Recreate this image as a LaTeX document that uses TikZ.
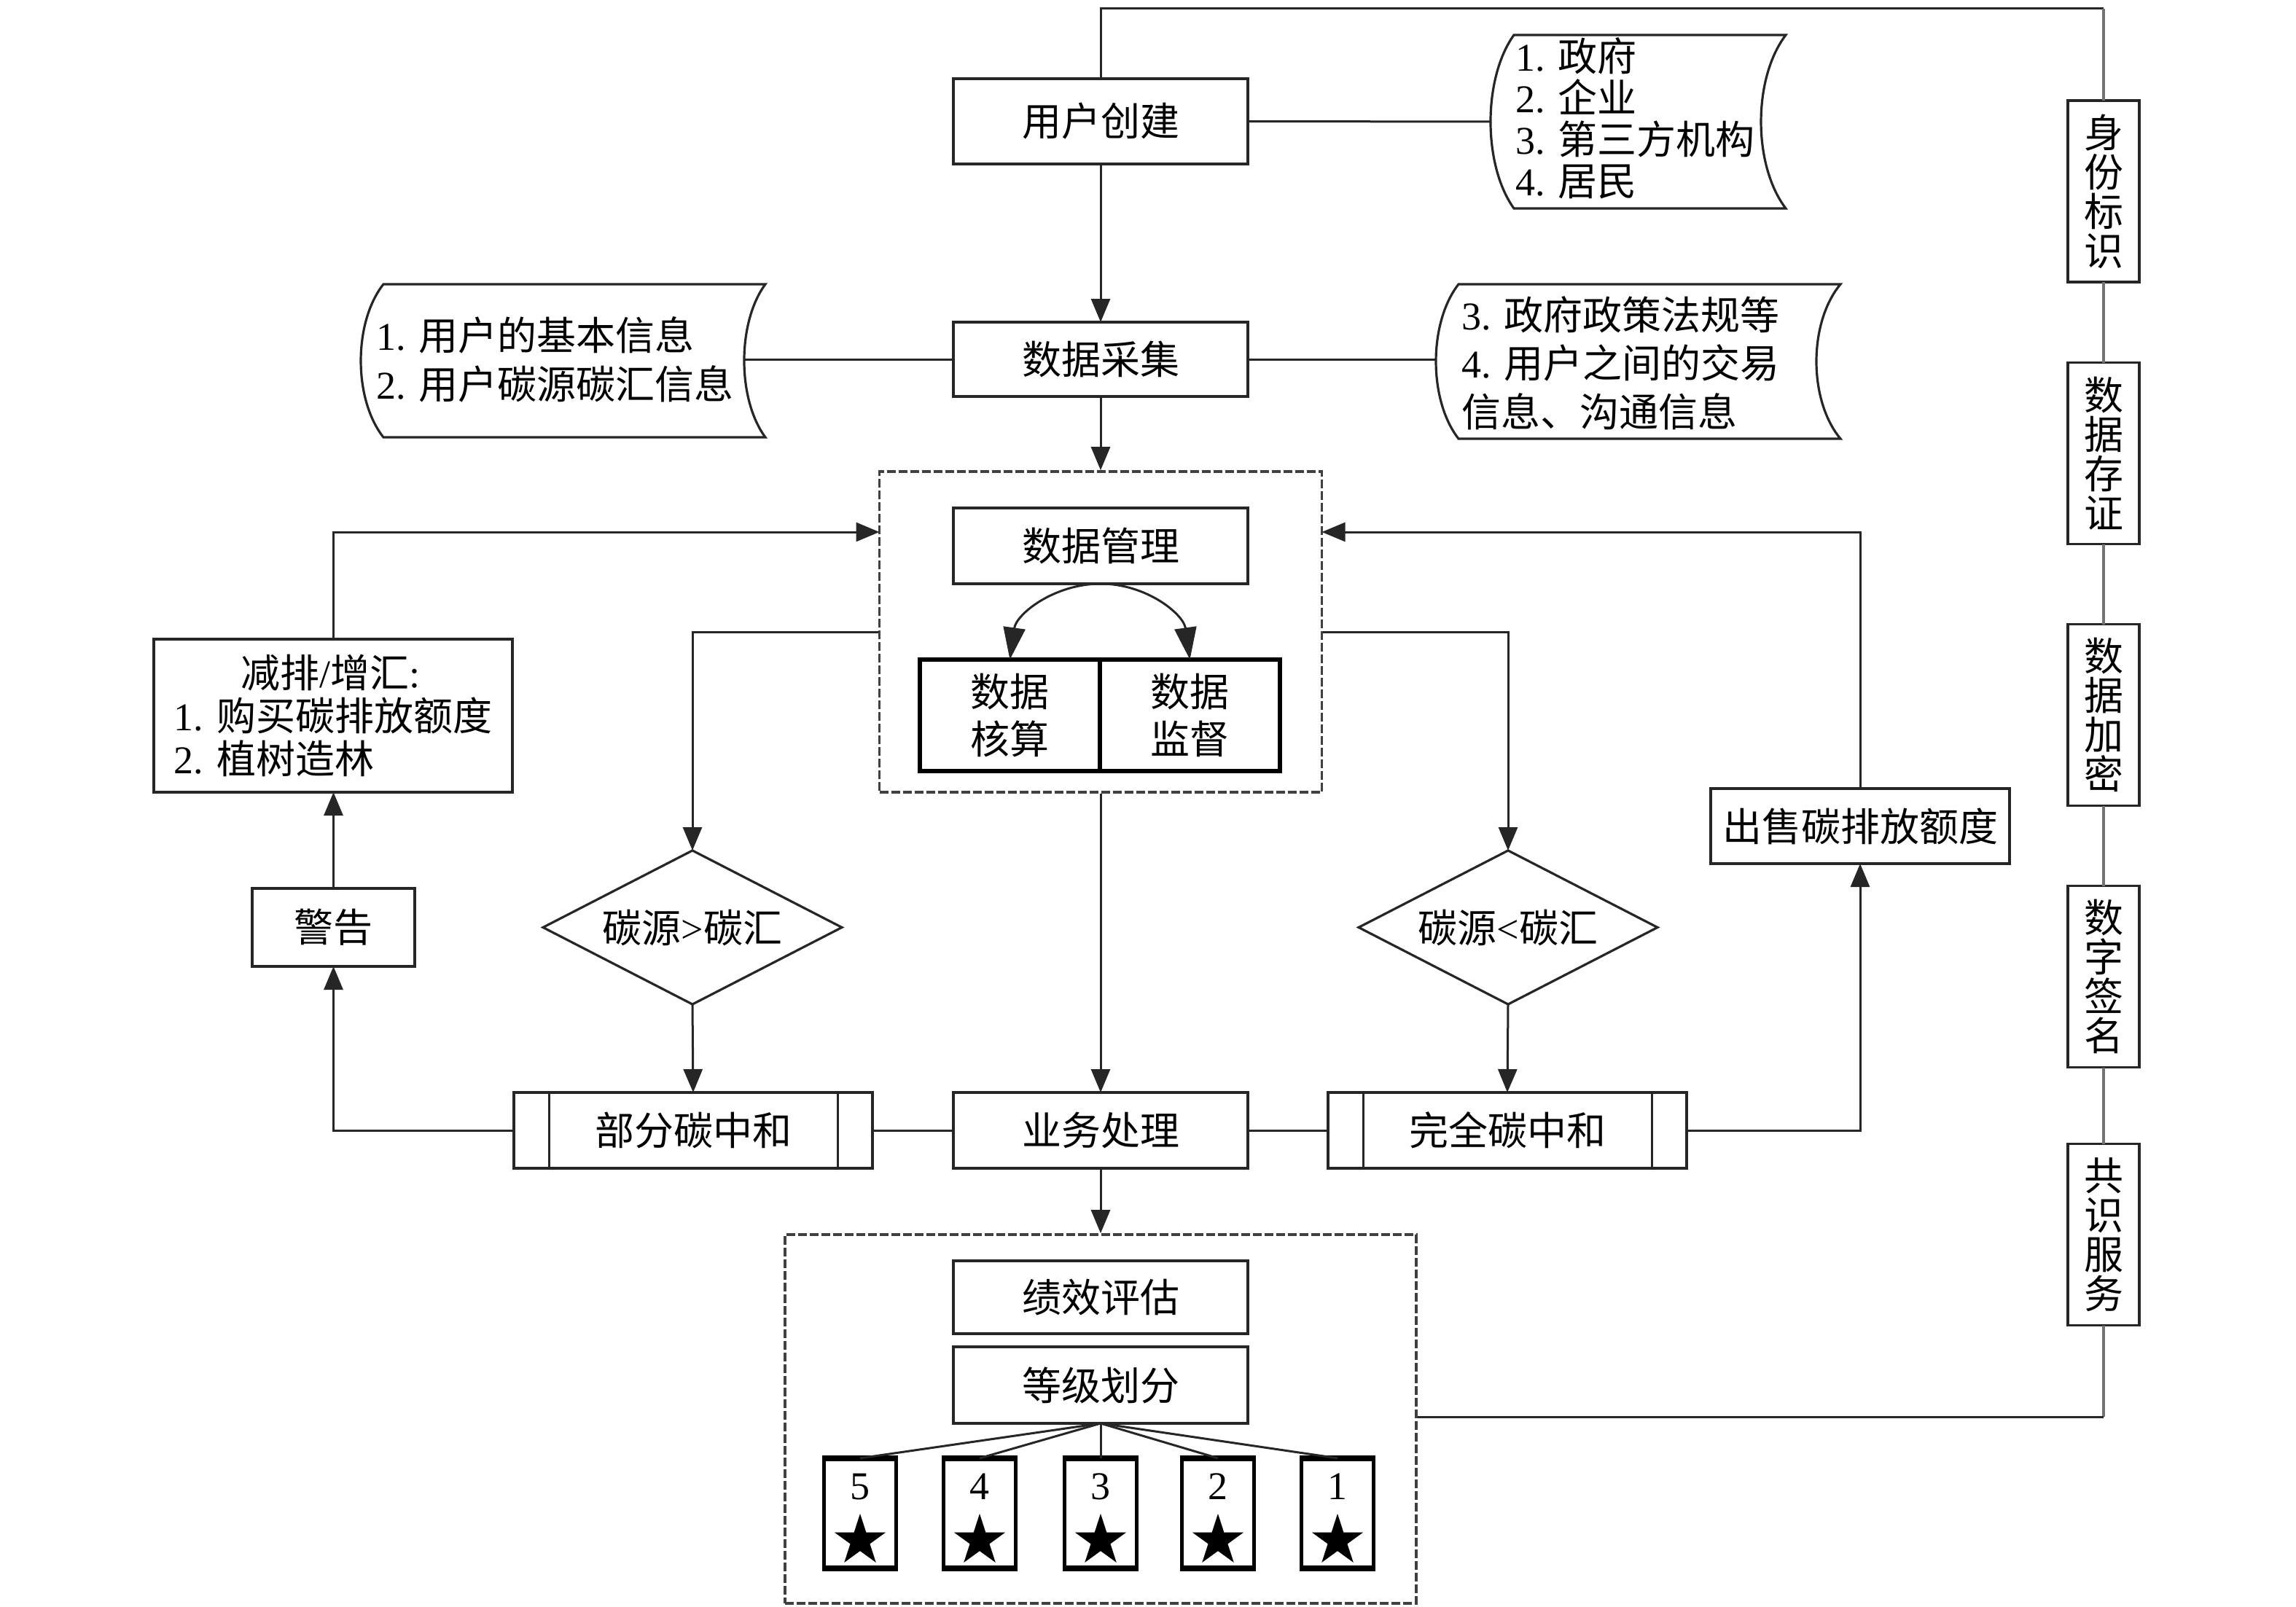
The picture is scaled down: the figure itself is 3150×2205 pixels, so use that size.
\documentclass[tikz,border=0pt]{standalone}
\usepackage{fontspec}
\setmainfont{Liberation Serif}
\newfontfamily\cjk{Noto Sans CJK SC}
\newfontfamily\lat{Liberation Serif}
\usetikzlibrary{arrows.meta,shapes.geometric,calc}
\tikzset{
  base/.style={font=\fontsize{13.5}{14}\selectfont\cjk, inner sep=0pt, outer sep=0pt},
  box/.style={base, rectangle, draw=black!85, line width=0.8pt, fill=white},
  cbox/.style={box, minimum width=101pt},
  tbox/.style={box, line width=1.3pt, draw=black, minimum width=61.75pt, minimum height=38.25pt, align=center, font=\fontsize{13.5}{16.25}\selectfont\cjk},
  sbox/.style={box, minimum width=24.5pt, minimum height=62.25pt, align=center, font=\fontsize{13.5}{13.5}\selectfont\cjk},
  grp/.style={rectangle, draw=black!75, line width=0.9pt, dash pattern=on 3pt off 1pt, inner sep=0pt},
  dia/.style={base, diamond, draw=black!85, line width=0.8pt, fill=white, aspect=1.94, minimum width=102.5pt, minimum height=52.75pt},
  starbox/.style={rectangle, draw=black, line width=1.1pt, fill=white, minimum width=24.75pt, minimum height=36.75pt, inner sep=0pt},
  thickedge/.style={draw=black, line width=1.8pt},
  numtxt/.style={inner sep=0pt, font=\fontsize{13.5}{14}\selectfont\lat},
  starmark/.style={star, star points=5, star point ratio=2.618, fill=black, draw=none, minimum size=18.5pt, inner sep=0pt},
  doctext/.style={base, anchor=west, align=left},
  docline/.style={draw=black!85, line width=0.8pt, fill=white},
  conn/.style={draw=black!85, line width=0.75pt},
  arr/.style={conn, -{Triangle[length=8pt,width=6.5pt]}},
  arcarr/.style={conn, -{Triangle[length=11pt,width=7.5pt]}},
  vline/.style={draw=black!55, line width=1.2pt}
}
\begin{document}
\begin{tikzpicture}[x=0.25pt,y=-0.25pt]
\useasboundingbox (0,0) rectangle (3150,2205);

% dashed groups
\node[grp, minimum width=151.75pt, minimum height=110pt] (g1) at (1510,867) {};
\node[grp, minimum width=216.5pt, minimum height=126.5pt] (g2) at (1510,1947) {};

% central column
\node[cbox, minimum height=29.25pt] (create) at (1510,166.5) {用户创建};
\node[cbox, minimum height=25.5pt] (collect) at (1510,493) {数据采集};
\node[cbox, minimum height=26pt] (mgmt) at (1510,749) {数据管理};
\node[tbox] (acct) at (1385.5,981.5) {数据\\核算};
\node[tbox] (superv) at (1632.5,981.5) {数据\\监督};
\node[cbox, minimum height=26pt] (biz) at (1510,1551) {业务处理};
\node[cbox, minimum height=25pt] (eval) at (1510,1780) {绩效评估};
\node[cbox, minimum height=26.25pt] (grade) at (1510,1900.5) {等级划分};

% left / right branches
\node[box, minimum width=123pt, minimum height=26pt] (partial) at (951,1551) {部分碳中和};
\node[box, minimum width=123pt, minimum height=26pt] (full) at (2068,1551) {完全碳中和};
\node[box, minimum width=55.75pt, minimum height=26.75pt] (warn) at (457.5,1272.5) {警告};
\node[box, minimum width=123pt, minimum height=52.5pt, align=left, font=\fontsize{13.5}{14.75}\selectfont\cjk] (reduce) at (457,982)
  {\hspace*{23pt}减排{\lat /}增汇{\lat :}\\{\lat 1. }购买碳排放额度\\{\lat 2. }植树造林\hspace*{6pt}};
\node[box, minimum width=102.5pt, minimum height=25.75pt] (sell) at (2552,1133.5) {出售碳排放额度};
\node[dia] (dL) at (950,1272.5) {碳源{\lat >}碳汇};
\node[dia] (dR) at (2069,1272.5) {碳源{\lat <}碳汇};

% inner bars of the process boxes
\foreach \n in {partial,full}{
  \draw[conn] ($(\n.north west)+(12pt,0)$) -- ($(\n.south west)+(12pt,0)$);
  \draw[conn] ($(\n.north east)+(-12pt,0)$) -- ($(\n.south east)+(-12pt,0)$);
}

% document shapes
\draw[docline] (2077,48) .. controls (2034.3,107.5) and (2034.3,226.5) .. (2077,286)
  -- (2450,286) .. controls (2404.7,226.5) and (2404.7,107.5) .. (2450,48) -- cycle;
\draw[docline] (526,390) .. controls (484.7,442.5) and (484.7,547.5) .. (526,600)
  -- (1050,600) .. controls (1011.3,547.5) and (1011.3,442.5) .. (1050,390) -- cycle;
\draw[docline] (2001,390) .. controls (1959.7,443) and (1959.7,549) .. (2001,602)
  -- (2525,602) .. controls (2481,549) and (2481,443) .. (2525,390) -- cycle;
\coordinate (doc1w) at (2045,167);
\coordinate (doc2e) at (1021,495);
\coordinate (doc3w) at (1970,496);
\node[doctext, font=\fontsize{13.5}{14.25}\selectfont\cjk] (doc1) at (2079,162)
  {{\lat 1. }政府\\{\lat 2. }企业\\{\lat 3. }第三方机构\\{\lat 4. }居民};
\node[doctext, font=\fontsize{13.5}{16.75}\selectfont\cjk] (doc2) at (516,493)
  {{\lat 1. }用户的基本信息\\{\lat 2. }用户碳源碳汇信息};
\node[doctext, font=\fontsize{13.5}{16.6}\selectfont\cjk] (doc3) at (2005,498)
  {{\lat 3. }政府政策法规等\\{\lat 4. }用户之间的交易\\信息、沟通信息};

% side column
\node[sbox] (id) at (2886,262.5) {身\\份\\标\\识};
\node[sbox] (store) at (2886,622) {数\\据\\存\\证};
\node[sbox] (enc) at (2886,981) {数\\据\\加\\密};
\node[sbox] (sign) at (2886,1340) {数\\字\\签\\名};
\node[sbox] (cons) at (2886,1694) {共\\识\\服\\务};

% star boxes
\foreach \i/\x in {5/1180,4/1344,3/1510,2/1671,1/1835}{
  \node[starbox] (s\i) at (\x,2076.5) {};
  \draw[thickedge] (s\i.north west) -- (s\i.north east);
  \draw[thickedge] (s\i.south west) -- (s\i.south east);
  \node[numtxt] (n\i) at (\x,2040) {\i};
  \node[starmark] (t\i) at (\x,2114) {};
}

% connectors
\draw[arr] (create.south) -- (collect.north);
\draw[arr] (collect.south) -- (g1.north);
\draw[conn] (create.east) -- (doc1w);
\draw[conn] (collect.west) -- (collect.west -| doc2e);
\draw[conn] (collect.east) -- (collect.east -| doc3w);

\draw[arcarr] (mgmt.south) to[out=180,in=82] (acct.north);
\draw[arcarr] (mgmt.south) to[out=0,in=98] (superv.north);

\coordinate (inL) at (1206.5,730);
\coordinate (inR) at (1813.5,730);
\draw[arr] (reduce.north) |- (inL);
\draw[arr] (sell.north) |- (inR);
\draw[arr] (g1.west) -| (dL.north);
\draw[arr] (g1.east) -| (dR.north);
\draw[arr] (dL.south) -- (partial.north);
\draw[arr] (dR.south) -- (full.north);
\draw[arr] (g1.south) -- (biz.north);
\draw[conn] (partial.east) -- (biz.west);
\draw[conn] (biz.east) -- (full.west);
\draw[arr] (partial.west) -| (warn.south);
\draw[arr] (warn.north) -- (warn.north |- reduce.south);
\draw[arr] (full.east) -| (sell.south);
\draw[arr] (biz.south) -- (g2.north);

\foreach \i in {5,4,3,2,1}{
  \draw[conn] (grade.south) -- (s\i.north);
}

% right loop
\coordinate (tr) at (2886,12);
\coordinate (br) at (2886,1944);
\draw[conn] (create.north) -- (create.north |- tr) -- (tr);
\draw[vline] (tr) -- (id.north);
\draw[vline] (id.south) -- (store.north);
\draw[vline] (store.south) -- (enc.north);
\draw[vline] (enc.south) -- (sign.north);
\draw[vline] (sign.south) -- (cons.north);
\draw[vline] (cons.south) -- (br);
\draw[conn] (br) -- (br -| g2.east);
\end{tikzpicture}
\end{document}
